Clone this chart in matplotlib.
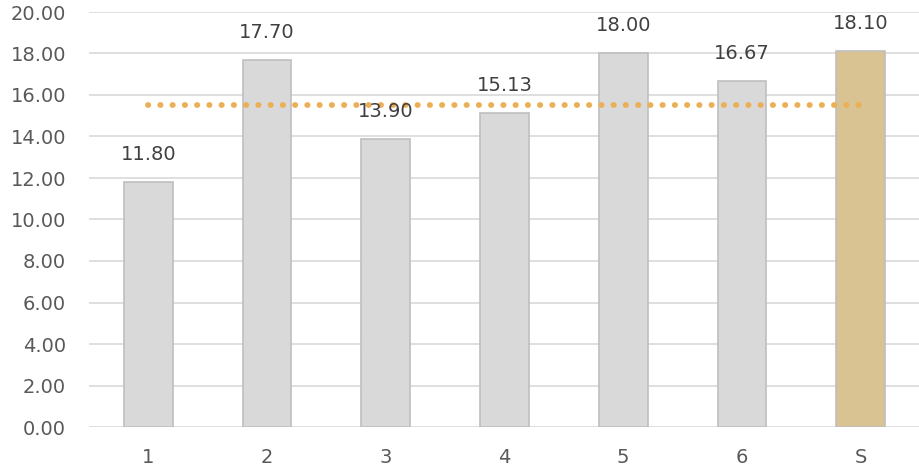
import matplotlib
matplotlib.use("Agg")
import matplotlib.pyplot as plt
import numpy as np

categories = ["1", "2", "3", "4", "5", "6", "S"]
values = [11.80, 17.70, 13.90, 15.13, 18.00, 16.67, 18.10]
average = [15.53] * 7
bar_colors = ["#D9D9D9"] * 6 + ["#D9C393"]
y_ticks = [0, 2, 4, 6, 8, 10, 12, 14, 16, 18, 20]

plt.rcParams['font.family'] = ['DejaVu Sans']
fig = plt.figure(figsize=(9.2, 4.69), dpi=100)
ax = fig.add_axes([89/920, 1-427/469, 1-89/920, (427-12)/469])

x = np.arange(len(categories))
ax.bar(x, values, width=0.41, color=bar_colors, edgecolor="#BFBFBF", linewidth=1.2, zorder=2)
ax.plot(x, average, color="#EBB055", linewidth=4.2, linestyle=(0, (0.05, 2.05)),
        dash_capstyle="round", solid_capstyle="round", zorder=3)

for xi, v in zip(x, values):
    ax.annotate(f"{v:.2f}", (xi, v), xytext=(0, 13), textcoords="offset points",
                ha="center", va="bottom", fontsize=14, color="#404040", zorder=4)

ax.set_xlim(-0.5, 6.5)
ax.set_ylim(0, 20)
ax.set_yticks(y_ticks)
ax.set_yticklabels([f"{t:.2f}" for t in y_ticks])
ax.set_xticks(x)
ax.set_xticklabels(categories)
ax.tick_params(axis="both", length=0, labelsize=14, labelcolor="#595959")
ax.tick_params(axis="y", pad=16.5)
ax.tick_params(axis="x", pad=15)
ax.grid(axis="y", color="#D9D9D9", linewidth=1.2, zorder=0)
ax.set_axisbelow(True)
for s in ax.spines.values():
    s.set_visible(False)

fig.savefig("out.png", dpi=100)
